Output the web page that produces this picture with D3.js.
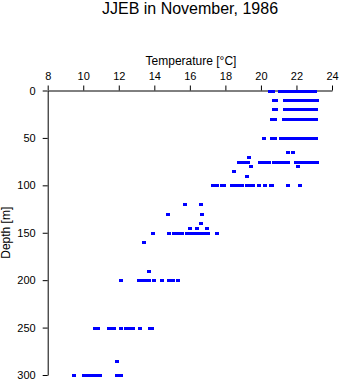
<!DOCTYPE html>
<html>
<head>
<meta charset="utf-8">
<script src="https://cdn.jsdelivr.net/npm/d3@7"></script>
<style>
  body { margin: 0; background: #fff; }
  text { font-family: "Liberation Sans", Arial, Helvetica, sans-serif; fill: #000; }
</style>
</head>
<body>
<svg id="chart" width="341" height="384"></svg>
<script>
const title = "JJEB in November, 1986";
const xLabel = "Temperature [\u00B0C]";
const yLabel = "Depth [m]";
const xTicks = [8, 10, 12, 14, 16, 18, 20, 22, 24];
const yTicks = [0, 50, 100, 150, 200, 250, 300];

// sample depths (m) and temperatures (°C) observed at each depth
const depths = [0, 10, 20, 30, 50, 65, 70, 75, 80, 85, 90, 100, 120, 130, 140, 145, 150, 160, 190, 200, 250, 285, 300];
const temps = [
  [20.5, 20.7, 21.1, 21.25, 21.4, 21.6, 21.7, 21.9, 22.0, 22.15, 22.3, 22.5, 22.65, 22.8, 22.9, 23.05],
  [20.75, 20.85, 21.35, 21.5, 21.6, 21.75, 22.0, 22.15, 22.3, 22.45, 22.6, 22.75, 22.9, 23.05, 23.15],
  [20.75, 20.85, 21.35, 21.5, 21.6, 21.75, 21.9, 22.05, 22.2, 22.35, 22.5, 22.65, 22.8, 22.95, 23.1],
  [20.6, 20.8, 21.3, 21.45, 21.6, 21.75, 21.9, 22.05, 22.2, 22.35, 22.5, 22.65, 22.8, 22.95, 23.1],
  [20.15, 20.6, 20.8, 21.15, 21.3, 21.45, 21.6, 21.75, 21.9, 22.05, 22.2, 22.35, 22.5, 22.65, 22.8, 22.95, 23.1],
  [21.5, 21.8],
  [19.35],
  [18.75, 18.95, 19.15, 19.3, 19.95, 20.15, 20.3, 20.45, 20.75, 20.9, 21.05, 21.2, 21.35, 21.5, 22.0, 22.2, 22.4, 22.55, 22.7, 22.85, 23.0, 23.15],
  [19.42, 22.1],
  [18.5],
  [19.2],
  [17.3, 17.5, 17.8, 17.95, 18.35, 18.55, 18.75, 18.95, 19.2, 19.45, 19.55, 19.9, 20.25, 20.55, 20.65, 21.5, 22.2],
  [15.7, 16.6],
  [14.77, 16.7],
  [16.6],
  [16.0, 16.4, 16.95],
  [13.9, 14.8, 15.1, 15.35, 15.55, 15.85, 16.0, 16.15, 16.4, 16.6, 16.85, 17.0, 17.55],
  [13.4],
  [13.7],
  [12.15, 13.15, 13.3, 13.45, 13.7, 14.0, 14.45, 14.85, 15.05, 15.35],
  [10.65, 10.85, 11.45, 11.6, 11.75, 12.15, 12.4, 12.6, 12.8, 13.2, 13.75, 13.85],
  [11.9],
  [9.5, 10.05, 10.25, 10.5, 10.65, 10.8, 10.95, 11.9, 12.1]
];

const points = [];
depths.forEach((d, i) => temps[i].forEach(t => points.push({ d, t })));

const svg = d3.select("#chart");
const x = d3.scaleLinear().domain([8, 24]).range([47.7, 332]);
const y = d3.scaleLinear().domain([0, 300]).range([90.5, 375]);

svg.append("text")
  .attr("x", 190).attr("y", 14)
  .attr("text-anchor", "middle")
  .style("font-size", "16px")
  .text(title);

svg.append("text")
  .attr("x", 191).attr("y", 65)
  .attr("text-anchor", "middle")
  .style("font-size", "12px")
  .text(xLabel);

const xAxis = svg.append("g")
  .attr("transform", `translate(0,${y(0)})`)
  .call(d3.axisTop(x).tickValues(xTicks).tickSize(5).tickPadding(6).tickSizeOuter(0));
xAxis.select(".domain").attr("stroke", "#000");
xAxis.selectAll("text").style("font-size", "11px").attr("fill", "#000");

const yAxis = svg.append("g")
  .attr("transform", `translate(${x(8)},0)`)
  .call(d3.axisLeft(y).tickValues(yTicks).tickSize(5).tickPadding(7).tickSizeOuter(0));
yAxis.select(".domain").attr("stroke", "#000");
yAxis.selectAll("text").style("font-size", "11px").attr("fill", "#000");

svg.append("text")
  .attr("transform", `translate(10,${(y(0) + y(300)) / 2}) rotate(-90)`)
  .attr("text-anchor", "middle")
  .style("font-size", "12px")
  .text(yLabel);

svg.append("g").selectAll("rect")
  .data(points)
  .join("rect")
  .attr("x", p => Math.round(x(p.t)) - 2)
  .attr("y", p => Math.round(y(p.d)) - 1)
  .attr("width", 4)
  .attr("height", 3)
  .attr("fill", "#0000ff");
</script>
</body>
</html>
